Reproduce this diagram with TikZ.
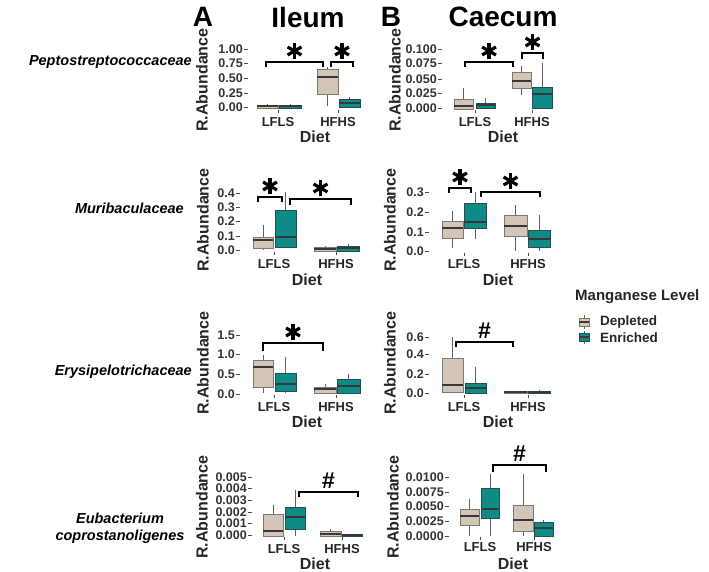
\documentclass[tikz,border=0pt]{standalone}
\usepackage{fontspec}
\setmainfont{Liberation Sans}
\usetikzlibrary{positioning}
\definecolor{tanfill}{HTML}{D3C6B7}
\definecolor{tanline}{HTML}{7D7873}
\definecolor{tealfill}{HTML}{0F8B87}
\definecolor{tealline}{HTML}{24504F}
\definecolor{medline}{HTML}{3A3836}
\tikzset{
  dep/.style={fill=tanfill, draw=tanline, line width=0.9pt},
  enr/.style={fill=tealfill, draw=tealline, line width=0.9pt},
  whisk/.style={draw=tanline!80!black, line width=0.9pt},
  med/.style={draw=medline, line width=2pt},
  brack/.style={draw=black, line width=1.3pt},
  ticklab/.style={font=\fontsize{12.5}{13}\selectfont\bfseries, text=black!80, anchor=east, inner sep=0pt},
  grouplab/.style={font=\fontsize{13}{14}\selectfont\bfseries, text=black!85, inner sep=0pt},
  axtitle/.style={font=\fontsize{16}{17}\selectfont\bfseries, text=black!85, inner sep=0pt},
  taxon/.style={font=\fontsize{14.5}{17}\selectfont\bfseries\itshape, align=center, inner sep=0pt},
  header/.style={font=\fontsize{28}{29}\selectfont\bfseries, inner sep=0pt},
}
% box: x1, x2, low whisker, q1, median, q3, high whisker, style
\newcommand{\bxp}[8]{%
  \draw[whisk] ({(#1+#2)/2},#3) -- ({(#1+#2)/2},#7);
  \draw[#8] (#1,#4) rectangle (#2,#6);
  \draw[med] (#1,#5) -- (#2,#5);
}
% bracket with star: x1, x2, y, bottom of legs
\newcommand{\brstar}[4]{%
  \draw[brack] (#1,#4) -- (#1,#3) -- (#2,#3) -- (#2,#4);
  \foreach \a in {90,150,210}
    \draw[line width=3.2pt] ({(#1+#2)/2},#3-11) ++(\a:8) -- ++(\a+180:16);
}
% bracket with hash
\newcommand{\brhash}[4]{%
  \draw[brack] (#1,#4) -- (#1,#3) -- (#2,#3) -- (#2,#4);
  \node[font=\fontsize{23}{23}\selectfont\bfseries, inner sep=0pt] at ({(#1+#2)/2},#3-11) {\#};
}
% y axis: axis x, title x, title y, list of value/y
\newcommand{\yax}[4]{%
  \foreach \v/\y in {#4} {
    \draw[black!70, line width=0.9pt] (#1-4,\y) -- (#1,\y);
    \node[ticklab] at (#1-5,\y) {\v};
  }
  \node[axtitle, rotate=90] at (#2,#3) {R.Abundance};
}
% x axis: two group centres, tick y, label y, title x, title y
\newcommand{\xax}[6]{%
  \draw[black!70, line width=0.8pt] (#1,#3) -- (#1,#3+3);
  \draw[black!70, line width=0.8pt] (#2,#3) -- (#2,#3+3);
  \node[grouplab] at (#1,#4) {LFLS};
  \node[grouplab] at (#2,#4) {HFHS};
  \node[axtitle] at (#5,#6) {Diet};
}
\begin{document}
\begin{tikzpicture}[x=1pt, y=-1pt]
\useasboundingbox (0,0) rectangle (709,572);

% Column headers
\node[header] (hA) at (203,17) {A};
\node[header] (hIleum) at (308,17) {Ileum};
\node[header] (hB) at (391,17) {B};
\node[header] (hCaecum) at (503,17) {Caecum};

% Taxa
\node[taxon, anchor=east] (t1) at (192,62) {Peptostreptococcaceae};
\node[taxon, anchor=east] (t2) at (184,208) {Muribaculaceae};
\node[taxon, anchor=east] (t3) at (192,372) {Erysipelotrichaceae};
\node[taxon] (t4) at (120,528) {Eubacterium\\coprostanoligenes};

% Row 1, Ileum
\yax{248}{202}{80}{1.00/49, 0.75/63, 0.50/78, 0.25/93, 0.00/107}
\bxp{257}{278}{104}{105}{106.5}{108}{109}{dep}
\bxp{279}{301}{104}{105}{106.5}{108}{109}{enr}
\bxp{317}{338}{106}{94}{77}{69}{67}{dep}
\bxp{339}{360}{107}{107}{103}{99}{97}{enr}
\brstar{266}{323}{62}{67}
\brstar{331}{353}{62}{67}
\xax{278}{338}{110}{122}{315}{137}

% Row 1, Caecum
\yax{442}{395}{80}{0.100/49, 0.075/63, 0.050/79, 0.025/93, 0.000/108}
\bxp{454}{473}{109}{109}{106}{99}{88}{dep}
\bxp{476}{495}{108}{108}{105}{103}{98}{enr}
\bxp{512}{531}{95}{88}{81}{72}{66}{dep}
\bxp{532}{552}{108}{108}{94}{87}{63}{enr}
\brstar{465}{513}{62}{67}
\brstar{522}{543}{53}{59}
\xax{475}{532}{110}{122}{503}{137}

% Row 2, Ileum
\yax{240}{203}{220}{0.4/193, 0.3/207, 0.2/221, 0.1/236, 0.0/250}
\bxp{253}{273}{250}{248}{240}{237}{225}{dep}
\bxp{275}{296}{247}{247}{237}{210}{192}{enr}
\bxp{314}{336}{251}{251}{249}{247}{246}{dep}
\bxp{337}{359}{251}{251}{248}{246}{244}{enr}
\brstar{258}{282}{197}{202}
\brstar{290}{351}{199}{205}
\xax{274}{336}{252}{264}{307}{280}

% Row 2, Caecum
\yax{429}{390}{220}{0.3/192, 0.2/212, 0.1/232, 0.0/251}
\bxp{442}{463}{248}{238}{228}{221}{211}{dep}
\bxp{464}{486}{239}{228}{222}{203}{192}{enr}
\bxp{504}{527}{251}{236}{226}{215}{205}{dep}
\bxp{528}{550}{251}{247}{239}{230}{215}{enr}
\brstar{449}{471}{188}{193}
\brstar{481}{540}{192}{197}
\xax{464}{528}{253}{264}{498}{280}

% Row 3, Ileum
\yax{240}{203}{363}{1.5/335, 1.0/354, 0.5/374, 0.0/394}
\bxp{253}{273}{393}{387}{367}{360}{355}{dep}
\bxp{275}{296}{393}{391}{384}{373}{357}{enr}
\bxp{314}{336}{393}{393}{389}{387}{384}{dep}
\bxp{337}{360}{393}{393}{386}{379}{374}{enr}
\brstar{263}{323}{343}{351}
\xax{274}{336}{395}{407}{307}{422}

% Row 3, Caecum
\yax{429}{390}{363}{0.6/337, 0.4/354, 0.2/374, 0.0/393}
\bxp{442}{463}{393}{392}{385}{358}{337}{dep}
\bxp{465}{486}{393}{393}{388}{383}{367}{enr}
\bxp{504}{527}{393}{393}{392}{391}{391}{dep}
\bxp{528}{550}{393}{393}{392}{391}{390}{enr}
\brhash{456}{513}{342}{347}
\xax{464}{528}{395}{407}{498}{422}

% Row 4, Ileum
\yax{252}{202}{507}{0.005/477, 0.004/488, 0.003/500, 0.002/512, 0.001/523, 0.000/535}
\bxp{263}{283}{536}{536}{531}{514}{505}{dep}
\bxp{285}{305}{536}{529}{517}{507}{490}{enr}
\bxp{320}{341}{536}{536}{534}{531}{529}{dep}
\bxp{342}{362}{536}{536}{535}{534}{534}{enr}
\brhash{299}{358}{492}{497}
\xax{284}{342}{537}{549}{315}{564}

% Row 4, Caecum
\yax{449}{393}{507}{0.0100/477, 0.0075/492, 0.0050/506, 0.0025/521, 0.0000/536}
\bxp{460}{479}{536}{525}{516}{509}{499}{dep}
\bxp{481}{499}{536}{518}{509}{488}{474}{enr}
\bxp{513}{533}{536}{531}{520}{505}{474}{dep}
\bxp{534}{553}{536}{536}{528}{522}{520}{enr}
\brhash{493}{546}{465}{472}
\xax{480}{534}{537}{547}{513}{564}

% Legend
\node[axtitle, anchor=west, font=\fontsize{15}{16}\selectfont\bfseries] (legtitle) at (575,297) {Manganese Level};
\draw[whisk] (584,315) -- (584,329);
\draw[dep] (579,318) rectangle (589,326);
\draw[med] (579,322) -- (589,322);
\draw[whisk] (584,331) -- (584,344);
\draw[enr] (579,333) rectangle (589,341);
\draw[med] (579,337) -- (589,337);
\node[grouplab, font=\fontsize{13.5}{14}\selectfont\bfseries, anchor=west] (kdep) at (600,322) {Depleted};
\node[grouplab, font=\fontsize{13.5}{14}\selectfont\bfseries, anchor=west] (kenr) at (600,338) {Enriched};
\end{tikzpicture}
\end{document}
